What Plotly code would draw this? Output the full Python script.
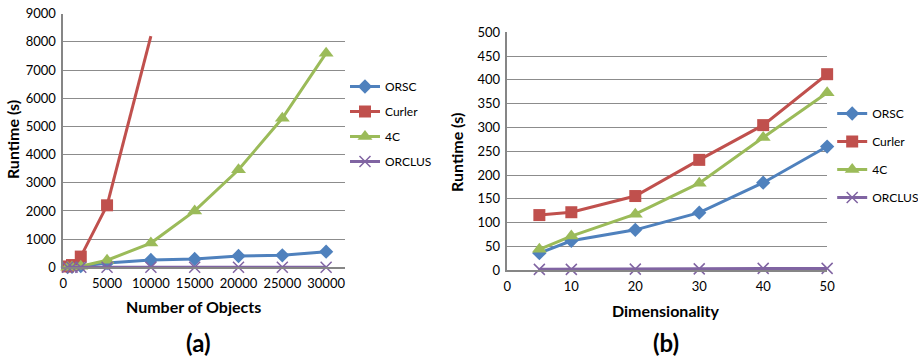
import plotly.graph_objects as go

# ---- Data ----
objects = [500, 1000, 2000, 5000, 10000, 15000, 20000, 25000, 30000]
object_ticks = [0, 5000, 10000, 15000, 20000, 25000, 30000]
object_tick_labels = ["0", "5000", "10000", "15000", "20000", "25000", "30000"]
a_orsc = [10, 20, 40, 150, 259, 295, 401, 426, 554]
a_curler_x = [500, 1000, 2000, 5000]
a_curler = [30, 80, 380, 2200]
a_curler_end_x = [5000, 10000]
a_curler_end = [2200, 8200]
a_4c = [0, 10, 40, 250, 860, 2000, 3460, 5290, 7600]
a_orclus = [5, 5, 5, 5, 5, 5, 5, 5, 5]

dims = [5, 10, 20, 30, 40, 50]
b_orsc = [36, 62, 85, 121, 184, 260]
b_curler = [116, 122, 156, 232, 305, 412]
b_4c = [44, 72, 118, 183, 279, 373]
b_orclus = [2, 2, 2.5, 3, 4, 4]

series_names = ["ORSC", "Curler", "4C", "ORCLUS"]
colors = ["#4F81BD", "#C0504D", "#9BBB59", "#8064A2"]
symbols = ["diamond", "square", "triangle-up", "x-thin"]
sizes = [11, 12, 13, 11]

FONT = "Lato"
W, H = 926, 360
REF_W = 918
def X(px):
    return px / REF_W
def Y(px):
    return 1 - px / H

fig = go.Figure()

def add(x, y, i, xa, ya, leg, mode="lines+markers", showlegend=True):
    marker = dict(symbol=symbols[i], size=sizes[i], color=colors[i])
    if symbols[i] == "x-thin":
        marker["line"] = dict(width=1.5, color=colors[i])
    fig.add_trace(go.Scatter(
        x=x, y=y, name=series_names[i], mode=mode, showlegend=showlegend,
        legendgroup=leg + series_names[i],
        line=dict(color=colors[i], width=3), marker=marker,
        xaxis=xa, yaxis=ya, legend=leg, cliponaxis=False))

add(a_curler_end_x, a_curler_end, 1, "x", "y", "legend", mode="lines", showlegend=False)
add(objects, a_orsc, 0, "x", "y", "legend")
add(a_curler_x, a_curler, 1, "x", "y", "legend")
add(objects, a_4c, 2, "x", "y", "legend")
add(objects, a_orclus, 3, "x", "y", "legend")

add(dims, b_orsc, 0, "x2", "y2", "legend2")
add(dims, b_curler, 1, "x2", "y2", "legend2")
add(dims, b_4c, 2, "x2", "y2", "legend2")
add(dims, b_orclus, 3, "x2", "y2", "legend2")

grid = "#8c8c8c"
axis_common = dict(showline=True, linecolor="#868686", linewidth=1.5, ticks="outside", ticklen=3,
                   tickcolor="rgba(0,0,0,0)", automargin=False,
                   tickfont=dict(family=FONT, size=13, color="black"), zeroline=False)

fig.update_layout(
    width=W, height=H,
    margin=dict(l=0, r=0, t=0, b=0),
    paper_bgcolor="white", plot_bgcolor="white",
    font=dict(family=FONT, color="black"),
    xaxis=dict(domain=[X(62.7), X(341.7)], range=[0, 32117], tickvals=object_ticks, ticktext=object_tick_labels,
               showgrid=False, anchor="y", **axis_common),
    yaxis=dict(domain=[Y(267.3), Y(13.7)], range=[0, 9000], dtick=1000, showgrid=True,
               gridcolor=grid, gridwidth=1, anchor="x", **axis_common),
    xaxis2=dict(domain=[X(503), X(820)], range=[0, 50], dtick=10, showgrid=False, anchor="y2", **axis_common),
    yaxis2=dict(domain=[Y(270.3), Y(32.3)], range=[0, 500], dtick=50, showgrid=True,
                gridcolor=grid, gridwidth=1, anchor="x2", **axis_common),
    legend=dict(x=X(342), y=Y(72), xanchor="left", yanchor="top", font=dict(family=FONT, size=12),
                tracegroupgap=6, itemwidth=30, bgcolor="rgba(0,0,0,0)"),
    legend2=dict(x=X(825), y=Y(99), xanchor="left", yanchor="top", font=dict(family=FONT, size=12),
                 tracegroupgap=9, itemwidth=30, bgcolor="rgba(0,0,0,0)"),
    showlegend=True,
)

ann = [
    dict(text="<b>Runtime (s)</b>", x=13, y=140, textangle=-90, size=16),
    dict(text="<b>Runtime (s)</b>", x=452, y=152, textangle=-90, size=16),
    dict(text="<b>Number of Objects</b>", x=192, y=306, textangle=0, size=16),
    dict(text="<b>Dimensionality</b>", x=660, y=310, textangle=0, size=16),
    dict(text="<b>(a)</b>", x=197, y=342, textangle=0, size=24),
    dict(text="<b>(b)</b>", x=660, y=342, textangle=0, size=24),
]
for a in ann:
    fig.add_annotation(text=a["text"], x=X(a["x"]), y=Y(a["y"]), xref="paper", yref="paper",
                       xanchor="center", yanchor="middle", showarrow=False, textangle=a["textangle"],
                       font=dict(family=FONT, size=a["size"], color="black"))

fig.write_html("out.html", config={"displayModeBar": False},
               post_script="document.body.style.margin='0';document.body.style.overflow='hidden';")
